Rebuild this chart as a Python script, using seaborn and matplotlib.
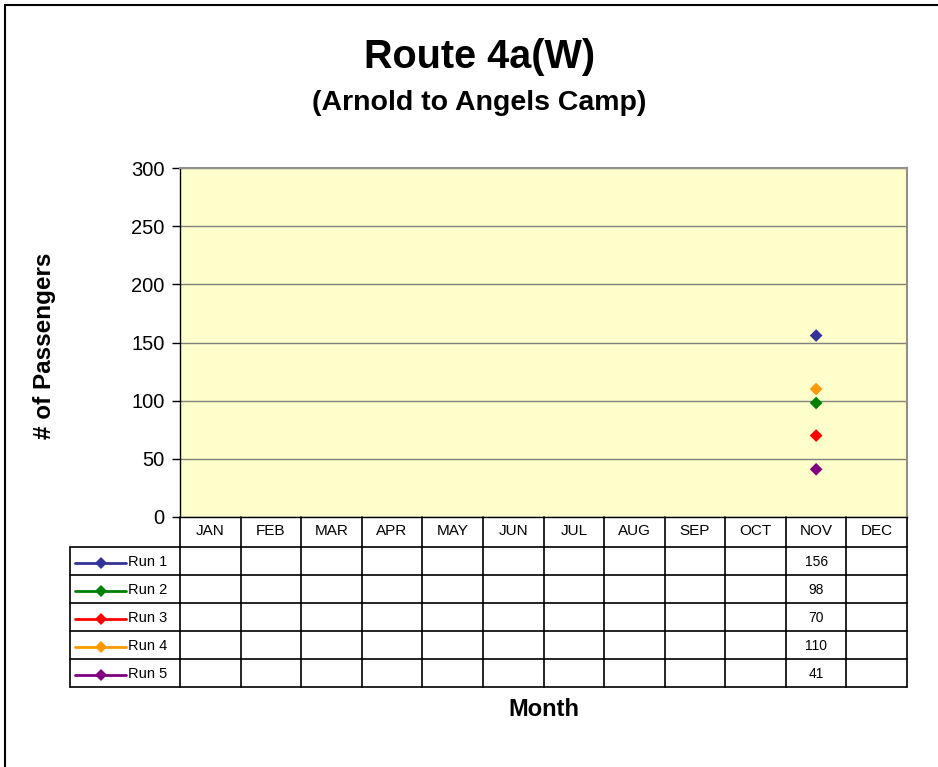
import numpy as np
import pandas as pd
import matplotlib
matplotlib.use("Agg")
import matplotlib.pyplot as plt
import matplotlib.transforms as mtrans
from matplotlib.lines import Line2D
import seaborn as sns

# ---------------- data ----------------
months = ["JAN", "FEB", "MAR", "APR", "MAY", "JUN", "JUL", "AUG", "SEP", "OCT", "NOV", "DEC"]
runs = ["Run 1", "Run 2", "Run 3", "Run 4", "Run 5"]
run1 = [None] * 10 + [156, None]
run2 = [None] * 10 + [98, None]
run3 = [None] * 10 + [70, None]
run4 = [None] * 10 + [110, None]
run5 = [None] * 10 + [41, None]
run_colors = ["#333399", "#008000", "#FF0000", "#FF9900", "#800080"]
yticks = [0, 50, 100, 150, 200, 250, 300]

series = [run1, run2, run3, run4, run5]
rows = []
for r, vals in zip(runs, series):
    for i, (m, v) in enumerate(zip(months, vals)):
        rows.append({"run": r, "month": m, "mi": i, "value": np.nan if v is None else v})
df = pd.DataFrame(rows)

# ---------------- figure ----------------
sns.set_theme(style="white")
plt.rcParams["font.family"] = ["Liberation Sans", "DejaVu Sans"]
plt.rcParams["text.color"] = "black"
plt.rcParams["axes.labelcolor"] = "black"
plt.rcParams["ytick.color"] = "black"
plt.rcParams["xtick.color"] = "black"

W, H = 938, 767
fig = plt.figure(figsize=(W / 100, H / 100), dpi=100)
fig.patch.set_facecolor("white")

# plot area in pixels
L, R, T, B = 180, 907, 168, 517
ax = fig.add_axes([L / W, 1 - B / H, (R - L) / W, (B - T) / H])
ax.set_facecolor("#FFFFCC")

sns.scatterplot(data=df.dropna(), x="mi", y="value", hue="run", hue_order=runs,
                palette=run_colors, marker="D", s=42, edgecolor="none",
                legend=False, ax=ax, zorder=5)

ax.set_xlim(-0.5, len(months) - 0.5)
ax.set_ylim(0, 300)
ax.set_yticks(yticks)
ax.set_yticklabels([str(t) for t in yticks], fontsize=14.5, color="black")
ax.set_xticks([])
ax.set_xlabel("")
ax.set_ylabel("")
ax.tick_params(axis="y", direction="out", length=6, width=1, color="black",
               left=True, pad=5)
ax.yaxis.grid(True, color="#808080", linewidth=1)
ax.set_axisbelow(True)
for s in ["top", "right"]:
    ax.spines[s].set_color("#909090")
    ax.spines[s].set_linewidth(1.5)
ax.spines["left"].set_color("black")
ax.spines["left"].set_linewidth(1)
ax.spines["bottom"].set_color("black")
ax.spines["bottom"].set_linewidth(1)

# ---------------- data table ----------------
ph = B - T
pw = R - L
def ya(px):  # pixel offset below axis bottom -> axes fraction
    return -px / ph
def xa(px):  # pixel x -> axes fraction
    return (px - L) / pw

blend = mtrans.blended_transform_factory(ax.transData, ax.transAxes)
axes_tr = ax.transAxes

header_h = 30
row_h = 28
n = len(runs)
bottom_px = header_h + row_h * n
lw = 1.2

# vertical lines between month columns
for k in range(len(months) + 1):
    xv = k - 0.5
    ax.add_line(Line2D([xv, xv], [0, ya(bottom_px)], transform=blend,
                       color="black", lw=lw, clip_on=False))
# horizontal lines
for j in range(n + 1):
    yy = ya(header_h + row_h * j)
    ax.add_line(Line2D([xa(70), 1], [yy, yy], transform=axes_tr,
                       color="black", lw=lw, clip_on=False))
# left border of legend column
ax.add_line(Line2D([xa(70), xa(70)], [ya(header_h), ya(bottom_px)], transform=axes_tr,
                   color="black", lw=lw, clip_on=False))

# month labels
for i, m in enumerate(months):
    ax.text(i, ya(header_h / 2 - 1), m, transform=blend, ha="center", va="center",
            fontsize=11, color="black")

# rows: legend key + values
for j, (r, vals, c) in enumerate(zip(runs, series, run_colors)):
    yc = ya(header_h + row_h * j + row_h / 2 + 1.5)
    ax.add_line(Line2D([xa(75), xa(126)], [yc, yc], transform=axes_tr, color=c,
                       lw=2, clip_on=False))
    ax.add_line(Line2D([xa(100.5)], [yc], transform=axes_tr, color=c, marker="D",
                       markersize=6.5, markeredgewidth=0, lw=0, clip_on=False))
    ax.text(xa(128), yc, r, transform=axes_tr, ha="left", va="center",
            fontsize=10.5, color="black")
    for i, v in enumerate(vals):
        if v is not None:
            ax.text(i, yc, str(v), transform=blend, ha="center", va="center",
                    fontsize=10, color="black")

# ---------------- titles ----------------
fig.text(480 / W, 1 - 57 / H, "Route 4a(W)", ha="center", va="center",
         fontsize=28.5, fontweight="bold", color="black")
fig.text(479 / W, 1 - 103 / H, "(Arnold to Angels Camp)", ha="center", va="center",
         fontsize=20.5, fontweight="bold", color="black")
fig.text(45 / W, 1 - 346 / H, "# of Passengers", ha="center", va="center",
         rotation=90, fontsize=17.5, fontweight="bold", color="black")
fig.text(544 / W, 1 - 709 / H, "Month", ha="center", va="center",
         fontsize=17, fontweight="bold", color="black")

# chart border (left and top edges visible)
fig.add_artist(Line2D([4.5 / W, 4.5 / W], [0, 1 - 4.5 / H], transform=fig.transFigure,
                      color="black", lw=1.5))
fig.add_artist(Line2D([4.5 / W, 1], [1 - 4.5 / H, 1 - 4.5 / H], transform=fig.transFigure,
                      color="black", lw=1.5))

fig.savefig("out.png", dpi=100, facecolor="white")
